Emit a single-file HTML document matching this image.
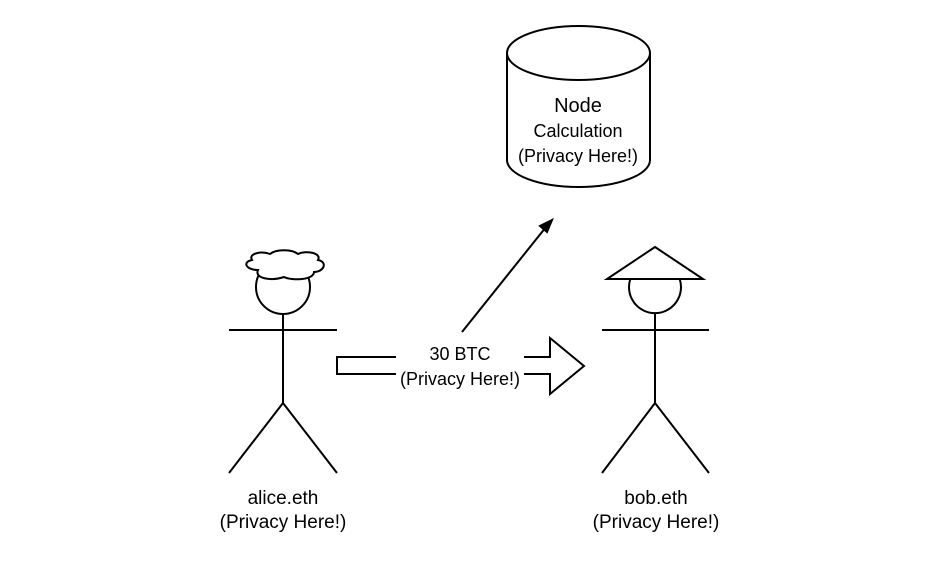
<!DOCTYPE html>
<html><head><meta charset="utf-8"><style>
html,body{margin:0;padding:0;background:#fff;}
svg{display:block;}
text{font-family:"Liberation Sans",Helvetica,Arial,sans-serif;fill:#000;}
</style></head><body>
<svg width="933" height="564" viewBox="0 0 933 564" xmlns="http://www.w3.org/2000/svg">
<rect width="933" height="564" fill="#fff"/>
<g stroke="#000" stroke-width="2" fill="none">
<path d="M507,53 L507,160 A71.5,27 0 0 0 650,160 L650,53" fill="#fff"/>
<ellipse cx="578.5" cy="53" rx="71.5" ry="27" fill="#fff"/>
<line x1="462" y1="332" x2="546" y2="227"/>
<circle cx="283" cy="287" r="27" fill="#fff"/>
<path d="M258,270 C246,270 242,262 252,260 C248,253 262,251 270,254 C276,249 292,249 298,254 C306,250 322,253 318,260 C328,262 324,272 314,272 C314,280 292,281 284,277 C272,281 254,279 258,270 Z" fill="#fff"/>
<line x1="283" y1="314" x2="283" y2="403"/>
<line x1="229" y1="330" x2="337" y2="330"/>
<polyline points="229,473 283,403 337,473"/>
<path d="M630.3,279 A26,26 0 1 0 679.7,279"/>
<polygon points="655,247 607,279 703,279"/>
<line x1="655" y1="313" x2="655" y2="403"/>
<line x1="602" y1="330" x2="709" y2="330"/>
<polyline points="602,473 655,403 709,473"/>
<polygon points="337,357 550,357 550,338 584,366 550,394 550,374 337,374" fill="#fff"/>
</g>
<polygon points="552,220 540,226 547,232" fill="#000" stroke="#000" stroke-width="2"/>
<rect x="396" y="342" width="128" height="30" fill="#fff"/>
<rect x="396" y="372" width="128" height="18" fill="#fff"/>
<g font-size="18" text-anchor="middle">
<text x="578" y="112" font-size="20">Node</text>
<text x="578" y="137">Calculation</text>
<text x="578" y="162">(Privacy Here!)</text>
<text x="460" y="360">30 BTC</text>
<text x="460" y="385">(Privacy Here!)</text>
<text x="283" y="504" font-size="19">alice.eth</text>
<text x="283" y="528" font-size="19">(Privacy Here!)</text>
<text x="656" y="504" font-size="19">bob.eth</text>
<text x="656" y="528" font-size="19">(Privacy Here!)</text>
</g>
</svg>
</body></html>
